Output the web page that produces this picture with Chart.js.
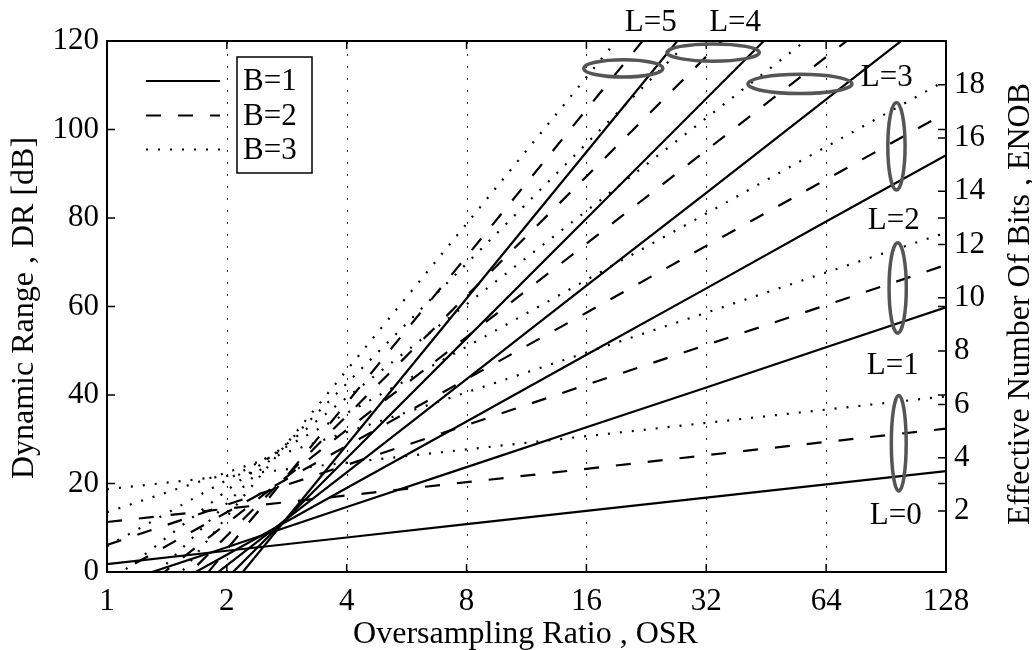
<!DOCTYPE html>
<html>
<head>
<meta charset="utf-8">
<title>Dynamic range vs oversampling ratio</title>
<script src="https://cdn.jsdelivr.net/npm/chart.js@4/dist/chart.umd.min.js"></script>
<style>
  html, body { margin: 0; padding: 0; background: #fff; }
  #wrap { width: 1032px; height: 650px; }
</style>
</head>
<body>
<div id="wrap"><canvas id="c" width="1032" height="650"></canvas></div>
<script>
// Oversampling ratios at which each curve is sampled (octave steps)
const osr = [1, 2, 4, 8, 16, 32, 64, 128];

// Axis tick values
const osrTicks = [1, 2, 4, 8, 16, 32, 64, 128];
const drTicks = [0, 20, 40, 60, 80, 100, 120];
const enobTicks = [2, 4, 6, 8, 10, 12, 14, 16, 18];

// Dynamic range [dB] per OSR; one row per loop order L = 0..5
const drB1 = [
  [1.8, 4.8, 7.8, 10.8, 13.8, 16.8, 19.8, 22.8],
  [-3.4, 5.6, 14.7, 23.7, 32.7, 41.7, 50.8, 59.8],
  [-11.1, 3.9, 19.0, 34.0, 49.1, 64.1, 79.2, 94.2],
  [-19.6, 1.5, 22.5, 43.6, 64.7, 85.7, 106.8, 127.9],
  [-28.5, -1.4, 25.7, 52.8, 79.9, 107.0, 134.1, 161.2],
  [-37.5, -4.4, 28.7, 61.8, 94.9, 128.0, 161.1, 194.3]
];
const drB2 = [
  [11.3, 14.3, 17.3, 20.3, 23.3, 26.4, 29.4, 32.4],
  [6.1, 15.2, 24.2, 33.2, 42.3, 51.3, 60.3, 69.4],
  [-1.6, 13.5, 28.5, 43.6, 58.6, 73.7, 88.7, 103.8],
  [-10.1, 11.0, 32.1, 53.1, 74.2, 95.3, 116.4, 137.4],
  [-18.9, 8.2, 35.3, 62.4, 89.4, 116.5, 143.6, 170.7],
  [-28.0, 5.1, 38.2, 71.3, 104.5, 137.6, 170.7, 203.8]
];
const drB3 = [
  [18.7, 21.7, 24.7, 27.7, 30.7, 33.7, 36.7, 39.7],
  [13.5, 22.5, 31.6, 40.6, 49.6, 58.6, 67.7, 76.7],
  [5.8, 20.8, 35.9, 50.9, 66.0, 81.0, 96.1, 111.1],
  [-2.7, 18.4, 39.4, 60.5, 81.6, 102.6, 123.7, 144.8],
  [-11.6, 15.5, 42.6, 69.7, 96.8, 123.9, 151.0, 178.1],
  [-20.6, 12.5, 45.6, 78.7, 111.8, 144.9, 178.0, 211.2]
];

const legendLabels = ['B=1', 'B=2', 'B=3'];
const orderLabels = ['L=0', 'L=1', 'L=2', 'L=3', 'L=4', 'L=5'];

// Callout for each loop order: text anchor and ring (centre, half-extent in octaves / dB)
const callouts = [
  { text: orderLabels[0], tx: 95.7, ty: 12.7,  cx: 97.4, cy: 29.1,  hw: 0.062, hh: 10.8 },
  { text: orderLabels[1], tx: 94.1, ty: 46.5,  cx: 96.8, cy: 64.2,  hw: 0.072, hh: 10.2 },
  { text: orderLabels[2], tx: 94.6, ty: 79.4,  cx: 96.1, cy: 96.2,  hw: 0.072, hh: 9.9 },
  { text: orderLabels[3], tx: 90.9, ty: 111.7, cx: 55.0, cy: 110.3, hw: 0.434, hh: 2.17 },
  { text: orderLabels[4], tx: 37.8, ty: 124.0, cx: 33.3, cy: 117.4, hw: 0.385, hh: 1.95 },
  { text: orderLabels[5], tx: 23.2, ty: 124.0, cx: 19.8, cy: 113.8, hw: 0.33,  hh: 1.95 }
];

const SERIF = '"Liberation Serif", "Times New Roman", serif';
const FONT_PX = 31;
const styles = [
  { dash: [] },          // B=1 solid
  { dash: [15, 17] },    // B=2 dashed
  { dash: [2, 10] }      // B=3 dotted
];

function makeSets(rows, b) {
  return rows.map((row, L) => ({
    label: legendLabels[b] + ' L=' + L,
    data: osr.map((v, i) => ({ x: v, y: row[i] })),
    borderColor: '#000',
    borderWidth: 2.2,
    borderDash: styles[b].dash,
    borderCapStyle: 'butt',
    pointRadius: 0,
    fill: false,
    tension: 0,
    clip: 0
  }));
}

const datasets = [
  ...makeSets(drB3, 2),
  ...makeSets(drB2, 1),
  ...makeSets(drB1, 0)
];

// Grid, frame, inward ticks, legend, axis titles and order callouts
const decor = {
  id: 'decor',
  beforeDatasetsDraw(chart) {
    const { ctx, chartArea: a, scales: { x } } = chart;
    ctx.save();
    ctx.strokeStyle = '#222';
    ctx.lineWidth = 1;
    ctx.setLineDash([2, 10]);
    osrTicks.slice(1, -1).forEach(v => {
      const px = Math.round(x.getPixelForValue(v)) + 0.5;
      ctx.beginPath();
      ctx.moveTo(px, a.bottom);
      ctx.lineTo(px, a.top);
      ctx.stroke();
    });
    ctx.restore();
  },
  afterDatasetsDraw(chart) {
    const { ctx, chartArea: a, scales: { x, y, y2 } } = chart;
    ctx.save();

    // frame
    ctx.strokeStyle = '#000';
    ctx.lineWidth = 2;
    ctx.setLineDash([]);
    ctx.strokeRect(a.left, a.top, a.right - a.left, a.bottom - a.top);

    // inward tick marks
    const TL = 8;
    ctx.lineWidth = 1.5;
    ctx.beginPath();
    osrTicks.forEach(v => {
      const px = x.getPixelForValue(v);
      ctx.moveTo(px, a.bottom); ctx.lineTo(px, a.bottom - TL);
      ctx.moveTo(px, a.top); ctx.lineTo(px, a.top + TL);
    });
    drTicks.forEach(v => {
      const py = y.getPixelForValue(v);
      ctx.moveTo(a.left, py); ctx.lineTo(a.left + TL, py);
      ctx.moveTo(a.right, py); ctx.lineTo(a.right - TL, py);
    });
    y2.ticks.forEach(t => {
      const py = y2.getPixelForValue(t.value);
      ctx.moveTo(a.right, py); ctx.lineTo(a.right - TL, py);
    });
    ctx.stroke();

    // loop-order rings
    ctx.strokeStyle = '#555';
    ctx.lineWidth = 3.5;
    callouts.forEach(c => {
      const cx = x.getPixelForValue(c.cx);
      const rx = x.getPixelForValue(c.cx * Math.pow(2, c.hw)) - cx;
      const cy = y.getPixelForValue(c.cy);
      const ry = cy - y.getPixelForValue(c.cy + c.hh);
      ctx.beginPath();
      ctx.ellipse(cx, cy, rx, ry, 0, 0, Math.PI * 2);
      ctx.stroke();
    });

    // loop-order labels
    ctx.fillStyle = '#000';
    ctx.font = FONT_PX + 'px ' + SERIF;
    ctx.textAlign = 'center';
    ctx.textBaseline = 'middle';
    callouts.forEach(c => {
      ctx.fillText(c.text, x.getPixelForValue(c.tx), y.getPixelForValue(c.ty));
    });

    // legend
    const rowY = [a.top + 40, a.top + 74.5, a.top + 108.5];
    const boxL = a.left + 130, boxR = a.left + 205;
    const boxT = a.top + 16, boxB = a.top + 132;
    ctx.fillStyle = '#fff';
    ctx.fillRect(boxL, boxT, boxR - boxL, boxB - boxT);
    ctx.strokeStyle = '#000';
    ctx.lineWidth = 1.5;
    ctx.strokeRect(boxL, boxT, boxR - boxL, boxB - boxT);
    legendLabels.forEach((lab, i) => {
      ctx.lineWidth = 2.2;
      ctx.setLineDash(styles[i].dash);
      ctx.beginPath();
      ctx.moveTo(a.left + 39, rowY[i]);
      ctx.lineTo(a.left + 113, rowY[i]);
      ctx.stroke();
      ctx.setLineDash([]);
      ctx.fillStyle = '#000';
      ctx.textAlign = 'left';
      ctx.textBaseline = 'middle';
      ctx.fillText(lab, boxL + 6, rowY[i] + 1);
    });

    // axis titles
    ctx.fillStyle = '#000';
    ctx.font = '32px ' + SERIF;
    ctx.textAlign = 'center';
    ctx.textBaseline = 'alphabetic';
    ctx.fillText('Oversampling Ratio , OSR', 525.5, 643);

    ctx.save();
    ctx.translate(33, 308);
    ctx.rotate(-Math.PI / 2);
    ctx.fillText('Dynamic Range , DR [dB]', 0, 0);
    ctx.restore();

    ctx.save();
    ctx.translate(1029, 304);
    ctx.rotate(-Math.PI / 2);
    ctx.fillText('Effective Number Of Bits , ENOB', 0, 0);
    ctx.restore();

    ctx.restore();
  }
};

const tickFont = { family: SERIF, size: FONT_PX };

new Chart(document.getElementById('c'), {
  type: 'line',
  data: { datasets },
  options: {
    responsive: false,
    animation: false,
    events: [],
    layout: { padding: { top: 41, left: 0, right: 0, bottom: 0 } },
    plugins: { legend: { display: false }, tooltip: { enabled: false } },
    scales: {
      x: {
        type: 'logarithmic',
        min: 1, max: 128,
        afterBuildTicks: s => { s.ticks = osrTicks.map(v => ({ value: v })); },
        afterFit: s => { s.height = 78; },
        grid: { display: false, drawTicks: false },
        border: { display: false },
        ticks: {
          font: tickFont, color: '#000', padding: 11,
          autoSkip: false, maxRotation: 0, minRotation: 0,
          callback: v => String(v)
        }
      },
      y: {
        type: 'linear', position: 'left',
        min: 0, max: 120,
        afterBuildTicks: s => { s.ticks = drTicks.map(v => ({ value: v })); },
        afterFit: s => { s.width = 107; },
        grid: { display: false, drawTicks: false },
        border: { display: false },
        ticks: { font: tickFont, color: '#000', padding: 8, callback: v => String(v) }
      },
      y2: {
        type: 'linear', position: 'right',
        min: 0, max: 120,
        afterBuildTicks: s => { s.ticks = enobTicks.map(n => ({ value: 6.02 * n + 1.76 })); },
        afterFit: s => { s.width = 86; },
        grid: { display: false, drawTicks: false },
        border: { display: false },
        ticks: {
          font: tickFont, color: '#000', padding: 8,
          callback: v => String(Math.round((v - 1.76) / 6.02))
        }
      }
    }
  },
  plugins: [decor]
});
</script>
</body>
</html>
